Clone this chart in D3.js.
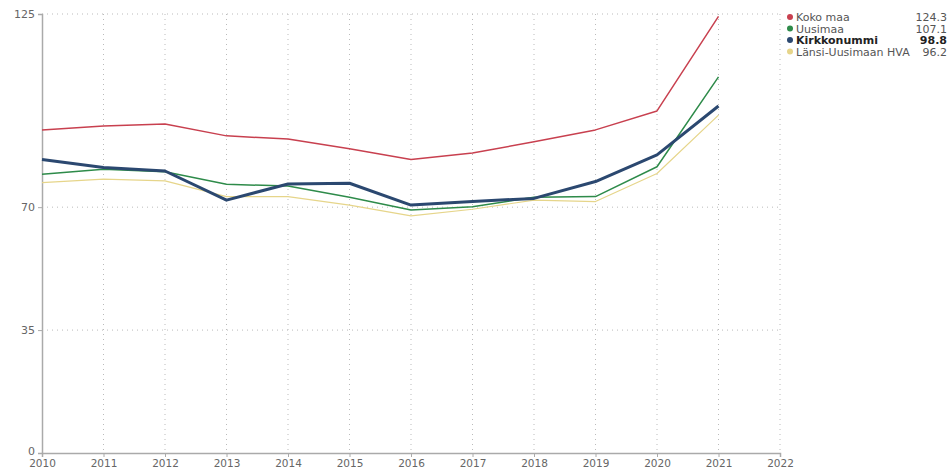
<!DOCTYPE html>
<html><head><meta charset="utf-8">
<script src="https://cdn.jsdelivr.net/npm/d3@7"></script>
<style>body{margin:0;background:#fff;} svg{display:block;font-family:"DejaVu Sans",sans-serif;}</style>
</head><body>
<svg id="chart" width="952" height="475"></svg>
<script>
const years = [2010,2011,2012,2013,2014,2015,2016,2017,2018,2019,2020,2021];
const xTicks = [2010,2011,2012,2013,2014,2015,2016,2017,2018,2019,2020,2021,2022];
const yTicks = [0,35,70,125];
const seriesNames = ["Koko maa","Uusimaa","Kirkkonummi","Länsi-Uusimaan HVA"];
const kokoMaa = [92.0,93.1,93.7,90.3,89.4,86.6,83.6,85.4,88.6,92.0,97.4,124.3];
const uusimaa = [79.4,80.8,80.1,76.5,76.0,72.8,69.2,70.1,72.8,73.0,81.5,107.1];
const kirkkonummi = [83.6,81.3,80.3,72.0,76.6,76.8,70.6,71.6,72.5,77.3,84.9,98.8];
const lansiUusimaa = [77.0,78.0,77.5,73.0,73.0,70.6,67.5,69.4,72.0,71.6,79.6,96.2];
const legendValues = ["124.3","107.1","98.8","96.2"];

const seriesData = [kokoMaa, uusimaa, kirkkonummi, lansiUusimaa];
const colors = ["#c8404f","#2e8b4a","#2b4870","#e6d58a"];
const widths = [1.5,1.5,3,1.2];
const order = [3,1,0,2];

const svg = d3.select("#chart");
const x = d3.scaleLinear().domain([2010,2022]).range([42,780]);
const y = d3.scaleLinear().domain([0,125]).range([453,14]);

// grid
const g = svg.append("g");
g.selectAll(".vg").data(xTicks.slice(1)).join("line")
  .attr("x1",d=>x(d)).attr("x2",d=>x(d)).attr("y1",y(125)).attr("y2",y(0))
  .attr("stroke","#bbb").attr("stroke-dasharray","1,4").attr("stroke-width",1);
g.selectAll(".hg").data(yTicks.slice(1)).join("line")
  .attr("x1",x(2010)).attr("x2",x(2022)).attr("y1",d=>y(d)).attr("y2",d=>y(d))
  .attr("stroke","#bbb").attr("stroke-dasharray","1,4").attr("stroke-width",1);

// axes
const xAxis = svg.append("g").attr("transform",`translate(0,${y(0)})`)
  .call(d3.axisBottom(x).tickValues(xTicks).tickFormat(d3.format("d")).tickSize(4).tickPadding(3));
const yAxis = svg.append("g").attr("transform",`translate(${x(2010)},0)`)
  .call(d3.axisLeft(y).tickValues(yTicks).tickSize(4).tickPadding(3));
[xAxis,yAxis].forEach(a=>{
  a.select(".domain").attr("stroke","#aaa").attr("stroke-width",1.5);
  a.selectAll(".tick line").attr("stroke","#aaa");
  a.selectAll(".tick text").attr("fill","#666").style("font-size","11px").style("font-family","DejaVu Sans, sans-serif");
});
xAxis.selectAll(".tick text").style("font-size","10.5px");
yAxis.selectAll(".tick").filter(d=>d===0).select("text").attr("dy","0.1em");

// lines
const line = d3.line().x((d,i)=>x(years[i])).y(d=>y(d));
order.forEach(i=>{
  svg.append("path").datum(seriesData[i]).attr("d",line)
    .attr("fill","none").attr("stroke",colors[i]).attr("stroke-width",widths[i])
    .attr("stroke-linejoin","round");
});

// legend
const lg = svg.append("g");
seriesNames.forEach((n,i)=>{
  const ly = 17 + i*11.5;
  lg.append("circle").attr("cx",790).attr("cy",ly).attr("r",3).attr("fill",colors[i]);
  lg.append("text").attr("x",796).attr("y",ly+4).text(n)
    .style("font-size","11px").attr("fill", i===2?"#222":"#555")
    .style("font-weight", i===2?"bold":"normal");
  lg.append("text").attr("x",947).attr("y",ly+4).attr("text-anchor","end").text(legendValues[i])
    .style("font-size","11px").attr("fill", i===2?"#222":"#555")
    .style("font-weight", i===2?"bold":"normal");
});
</script>
</body></html>
